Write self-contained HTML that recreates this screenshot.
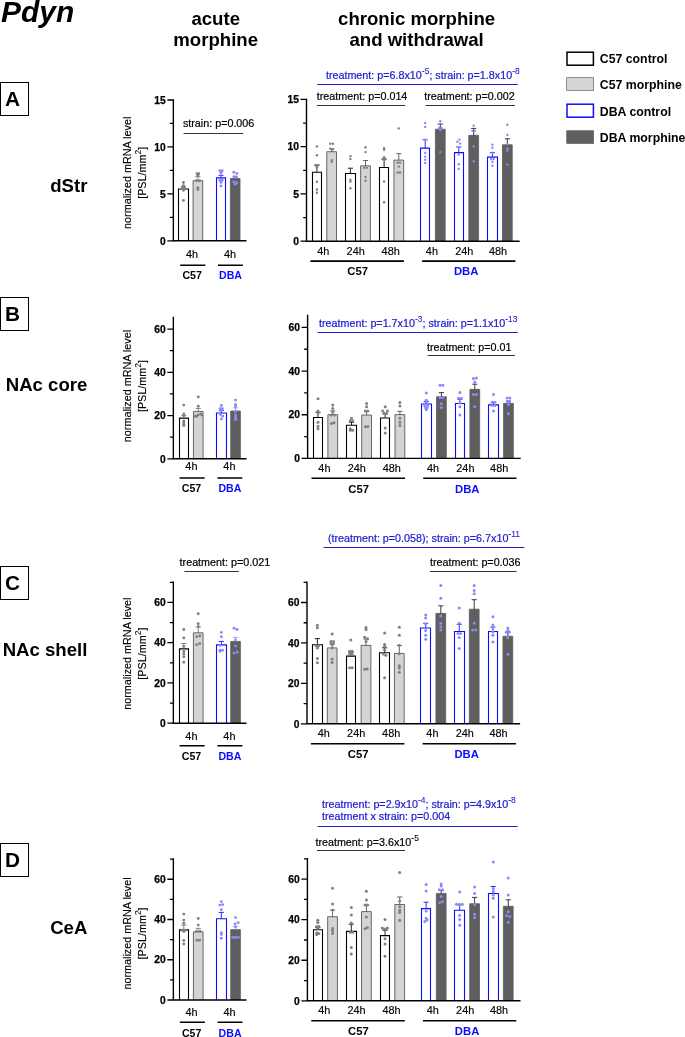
<!DOCTYPE html>
<html lang="en"><head><meta charset="utf-8"><title>Pdyn mRNA levels</title>
<style>
html,body{margin:0;padding:0;background:#fff}
body{width:685px;height:1037px;overflow:hidden}
svg{display:block;will-change:transform}
text{font-family:"Liberation Sans",sans-serif;fill:#000}
.tk{font-size:10.3px;font-weight:bold;stroke:#000;stroke-width:.25px}
.xl{font-size:10.9px;stroke:#000;stroke-width:.15px}
.grp{font-size:10.6px;font-weight:bold}
.yt{font-size:10.8px;stroke:#000;stroke-width:.15px}
.st{font-size:10.75px;stroke:#000;stroke-width:.2px}
.sb{font-size:10.75px;fill:#1c1cd0;stroke:#1c1cd0;stroke-width:.22px}
.sup{font-size:8.5px;stroke-width:.08px}
.reg{font-size:18.6px;font-weight:bold}
.hd{font-size:18.6px;font-weight:bold}
.pl{font-size:20.8px;font-weight:bold}
.lg{font-size:12.3px;font-weight:bold}
</style></head><body>
<svg width="685" height="1037" viewBox="0 0 685 1037">
<rect width="685" height="1037" fill="#fff"/>
<text x="1.1" y="21.6" font-size="29.9" font-weight="bold" font-style="italic">Pdyn</text>
<text x="215.7" y="24.8" class="hd" text-anchor="middle">acute</text>
<text x="215.7" y="46.2" class="hd" text-anchor="middle">morphine</text>
<text x="416.6" y="24.8" class="hd" text-anchor="middle">chronic morphine</text>
<text x="416.6" y="46.2" class="hd" text-anchor="middle">and withdrawal</text>
<rect x="567" y="52.2" width="26.4" height="13" fill="#fff" stroke="#000000" stroke-width="1.5"/>
<text x="599.8" y="63.1" class="lg">C57 control</text>
<rect x="566.7" y="77.7" width="27" height="12.9" fill="#d4d4d4" stroke="#505050" stroke-width="0.6"/>
<text x="599.8" y="89.3" class="lg">C57 morphine</text>
<rect x="567" y="104.2" width="26.4" height="13" fill="#fff" stroke="#0c0cff" stroke-width="1.5"/>
<text x="599.8" y="115.9" class="lg">DBA control</text>
<rect x="566.7" y="130.7" width="27" height="12.9" fill="#5f5f5f" stroke="#5f5f5f" stroke-width="0.6"/>
<text x="599.8" y="142.3" class="lg">DBA morphine</text>
<rect x="0.5" y="82.5" width="28" height="33" fill="#fff" stroke="#000" stroke-width="1"/>
<text x="12.6" y="106.3" class="pl" text-anchor="middle">A</text>
<text x="87.4" y="191.7" class="reg" text-anchor="end">dStr</text>
<rect x="0.5" y="297.5" width="28" height="33" fill="#fff" stroke="#000" stroke-width="1"/>
<text x="12.6" y="321.3" class="pl" text-anchor="middle">B</text>
<text x="87.4" y="391" class="reg" text-anchor="end">NAc core</text>
<rect x="0.5" y="566.5" width="28" height="33" fill="#fff" stroke="#000" stroke-width="1"/>
<text x="12.6" y="590.3" class="pl" text-anchor="middle">C</text>
<text x="87.4" y="656.3" class="reg" text-anchor="end">NAc shell</text>
<rect x="0.5" y="843.5" width="28" height="33" fill="#fff" stroke="#000" stroke-width="1"/>
<text x="12.6" y="867.3" class="pl" text-anchor="middle">D</text>
<text x="87.4" y="933.7" class="reg" text-anchor="end">CeA</text>
<text transform="translate(130.9 172.8) rotate(-90)" class="yt" text-anchor="middle">normalized mRNA level</text>
<text transform="translate(146.2 172.8) rotate(-90)" class="yt" text-anchor="middle">[PSL/mm<tspan dy="-5.1" font-size="8.4" stroke-width="0.05">2</tspan><tspan dy="5.1">]</tspan></text>
<g transform="translate(0 0)">
<path d="M178.5 240.8V188.95H188.5V240.8" fill="#ffffff" stroke="#000000" stroke-width="1.1"/>
<path d="M183.45 187V188.9M180.85 187H186.05" stroke="#6e6e6e" stroke-width="0.85" fill="none"/>
<g fill="#808080"><circle cx="183.45" cy="182.5" r="1.45"/><circle cx="183.45" cy="185.6" r="1.45"/><circle cx="182.55" cy="187" r="1.45"/><circle cx="184.35" cy="187" r="1.45"/><circle cx="183.45" cy="188.6" r="1.45"/><circle cx="183.45" cy="190.3" r="1.45"/><circle cx="183.45" cy="200.4" r="1.45"/></g>
<path d="M193.07 240.8V180.62H202.73V240.8" fill="#d4d4d4" stroke="#505050" stroke-width="0.85"/>
<path d="M197.9 176.7V180.7M195.3 176.7H200.5" stroke="#6e6e6e" stroke-width="0.85" fill="none"/>
<g fill="#808080"><circle cx="197" cy="173.8" r="1.45"/><circle cx="198.8" cy="173.8" r="1.45"/><circle cx="197.9" cy="175.5" r="1.45"/><circle cx="196.5" cy="180.8" r="1.45"/><circle cx="199.3" cy="180.8" r="1.45"/><circle cx="197.9" cy="187.8" r="1.45"/><circle cx="197.9" cy="189.5" r="1.45"/></g>
<path d="M216.5 240.8V177.85H225.5V240.8" fill="#ffffff" stroke="#0c0cff" stroke-width="1.1"/>
<path d="M221 175.3V177.8M218.4 175.3H223.6" stroke="#0c0cff" stroke-width="0.85" fill="none"/>
<g fill="#8a8afa"><circle cx="219.8" cy="170.8" r="1.45"/><circle cx="222.2" cy="170.8" r="1.45"/><circle cx="221" cy="173" r="1.45"/><circle cx="219.8" cy="180.2" r="1.45"/><circle cx="222.2" cy="180.2" r="1.45"/><circle cx="221" cy="182.5" r="1.45"/><circle cx="221" cy="186" r="1.45"/></g>
<path d="M230.37 240.8V178.52H240.03V240.8" fill="#5f5f5f" stroke="#5f5f5f" stroke-width="0.85"/>
<path d="M235.2 176.6V178.6M232.6 176.6H237.8" stroke="#8a8afa" stroke-width="0.85" fill="none"/>
<g fill="#8a8afa"><circle cx="233.8" cy="172.2" r="1.45"/><circle cx="236.8" cy="173.4" r="1.45"/><circle cx="234" cy="176.7" r="1.45"/><circle cx="236.4" cy="176.9" r="1.45"/><circle cx="233.7" cy="182" r="1.45"/><circle cx="236.8" cy="182.5" r="1.45"/><circle cx="235.2" cy="184.3" r="1.45"/></g>
<path d="M173.35 99.35 V240.8 H246.5" fill="none" stroke="#000" stroke-width="1.4"/>
<path d="M167.35 240.8H173.35M169.95 217.33H173.35M167.35 193.87H173.35M169.95 170.4H173.35M167.35 146.93H173.35M169.95 123.47H173.35M167.35 100H173.35" stroke="#000" stroke-width="1.3" fill="none"/>
<text x="165.75" y="244.5" class="tk" text-anchor="end">0</text>
<text x="165.75" y="197.57" class="tk" text-anchor="end">5</text>
<text x="165.75" y="150.63" class="tk" text-anchor="end">10</text>
<text x="165.75" y="103.7" class="tk" text-anchor="end">15</text>
<text x="192" y="258" class="xl" text-anchor="middle">4h</text>
<text x="230" y="258" class="xl" text-anchor="middle">4h</text>
<path d="M180.2 265.3H205.3M218 265.3H242.9" stroke="#000" stroke-width="1.6"/>
<text x="192.1" y="278.9" class="grp" text-anchor="middle">C57</text>
<text x="230.5" y="278.9" class="grp" text-anchor="middle" style="fill:#0c0cff">DBA</text>
</g>
<g transform="translate(0 0)">
<path d="M312.5 241.2V172.25H321.5V241.2" fill="#ffffff" stroke="#000000" stroke-width="1.1"/>
<path d="M316.9 165V172.2M314.3 165H319.5" stroke="#000000" stroke-width="0.85" fill="none"/>
<g fill="#808080"><circle cx="316.9" cy="146.5" r="1.2"/><circle cx="316.9" cy="155.3" r="1.2"/><circle cx="315.7" cy="165.4" r="1.2"/><circle cx="318.1" cy="165.4" r="1.2"/><circle cx="316.9" cy="167.4" r="1.2"/><circle cx="316.9" cy="181.8" r="1.2"/><circle cx="316.9" cy="189.5" r="1.2"/><circle cx="316.9" cy="192.7" r="1.2"/></g>
<path d="M326.77 241.2V151.72H336.53V241.2" fill="#d4d4d4" stroke="#505050" stroke-width="0.85"/>
<path d="M331.65 148.6V151.8M329.05 148.6H334.25" stroke="#4a4a4a" stroke-width="0.85" fill="none"/>
<g fill="#808080"><circle cx="330.35" cy="143.8" r="1.2"/><circle cx="332.95" cy="143.8" r="1.2"/><circle cx="330.35" cy="148.6" r="1.2"/><circle cx="332.95" cy="149.2" r="1.2"/><circle cx="331.65" cy="160.1" r="1.2"/><circle cx="331.65" cy="161.8" r="1.2"/></g>
<path d="M345.5 241.2V173.55H355.5V241.2" fill="#ffffff" stroke="#000000" stroke-width="1.1"/>
<path d="M350.4 168.2V173.5M347.8 168.2H353" stroke="#000000" stroke-width="0.85" fill="none"/>
<g fill="#808080"><circle cx="350.4" cy="156.1" r="1.2"/><circle cx="350.4" cy="159" r="1.2"/><circle cx="350.4" cy="179.7" r="1.2"/><circle cx="350.4" cy="181.5" r="1.2"/><circle cx="350.4" cy="188.2" r="1.2"/></g>
<path d="M360.62 241.2V165.82H370.38V241.2" fill="#d4d4d4" stroke="#505050" stroke-width="0.85"/>
<path d="M365.5 160.5V165.9M362.9 160.5H368.1" stroke="#4a4a4a" stroke-width="0.85" fill="none"/>
<g fill="#808080"><circle cx="365.5" cy="147.3" r="1.2"/><circle cx="365.5" cy="152.1" r="1.2"/><circle cx="364.2" cy="167.7" r="1.2"/><circle cx="366.8" cy="167.7" r="1.2"/><circle cx="365.5" cy="177" r="1.2"/><circle cx="365.5" cy="180.7" r="1.2"/></g>
<path d="M379.5 241.2V167.45H388.5V241.2" fill="#ffffff" stroke="#000000" stroke-width="1.1"/>
<path d="M384.1 159V167.4M381.5 159H386.7" stroke="#000000" stroke-width="0.85" fill="none"/>
<g fill="#808080"><circle cx="384.1" cy="148.1" r="1.2"/><circle cx="384.1" cy="149.7" r="1.2"/><circle cx="384.1" cy="157.3" r="1.2"/><circle cx="382.8" cy="159.3" r="1.2"/><circle cx="385.3" cy="159.3" r="1.2"/><circle cx="384.1" cy="181.5" r="1.2"/><circle cx="384.1" cy="202.2" r="1.2"/></g>
<path d="M393.92 241.2V160.12H403.68V241.2" fill="#d4d4d4" stroke="#505050" stroke-width="0.85"/>
<path d="M398.8 153.7V160.2M396.2 153.7H401.4" stroke="#4a4a4a" stroke-width="0.85" fill="none"/>
<g fill="#808080"><circle cx="398.8" cy="128.4" r="1.2"/><circle cx="397.6" cy="162.6" r="1.2"/><circle cx="400" cy="162.6" r="1.2"/><circle cx="398.8" cy="166.6" r="1.2"/><circle cx="397.6" cy="172.5" r="1.2"/><circle cx="400" cy="172.5" r="1.2"/></g>
<path d="M420.5 241.2V148.15H429.5V241.2" fill="#ffffff" stroke="#0c0cff" stroke-width="1.1"/>
<path d="M425.2 139.8V148.1M422.6 139.8H427.8" stroke="#0c0cff" stroke-width="0.85" fill="none"/>
<g fill="#8a8afa"><circle cx="425.2" cy="122.9" r="1.2"/><circle cx="425.2" cy="126.9" r="1.2"/><circle cx="425.2" cy="139.8" r="1.2"/><circle cx="425.2" cy="152.9" r="1.2"/><circle cx="425.2" cy="156.6" r="1.2"/><circle cx="425.2" cy="159.8" r="1.2"/><circle cx="425.2" cy="163" r="1.2"/></g>
<path d="M435.42 241.2V129.22H445.18V241.2" fill="#5f5f5f" stroke="#5f5f5f" stroke-width="0.85"/>
<path d="M440.3 124V129.3M437.7 124H442.9" stroke="#1a1a1a" stroke-width="0.85" fill="none"/>
<g fill="#8a8afa"><circle cx="440.3" cy="121.3" r="1.2"/><circle cx="439.1" cy="128" r="1.2"/><circle cx="441.5" cy="128" r="1.2"/><circle cx="440.3" cy="130" r="1.2"/><circle cx="440.3" cy="152.1" r="1.2"/></g>
<path d="M454.5 241.2V152.65H463.5V241.2" fill="#ffffff" stroke="#0c0cff" stroke-width="1.1"/>
<path d="M458.75 147V152.6M456.15 147H461.35" stroke="#0c0cff" stroke-width="0.85" fill="none"/>
<g fill="#8a8afa"><circle cx="459.45" cy="139.6" r="1.2"/><circle cx="457.35" cy="141.7" r="1.2"/><circle cx="460.15" cy="143.6" r="1.2"/><circle cx="458.75" cy="147.3" r="1.2"/><circle cx="458.75" cy="154.5" r="1.2"/><circle cx="458.75" cy="164.2" r="1.2"/><circle cx="458.75" cy="169" r="1.2"/></g>
<path d="M468.82 241.2V135.32H478.58V241.2" fill="#5f5f5f" stroke="#5f5f5f" stroke-width="0.85"/>
<path d="M473.7 128.4V135.4M471.1 128.4H476.3" stroke="#1a1a1a" stroke-width="0.85" fill="none"/>
<g fill="#8a8afa"><circle cx="473.7" cy="125.6" r="1.2"/><circle cx="472.5" cy="130.9" r="1.2"/><circle cx="474.9" cy="130.9" r="1.2"/><circle cx="473.7" cy="146.5" r="1.2"/><circle cx="473.7" cy="161.3" r="1.2"/></g>
<path d="M487.5 241.2V157.15H497.5V241.2" fill="#ffffff" stroke="#0c0cff" stroke-width="1.1"/>
<path d="M492.4 152.6V157.1M489.8 152.6H495" stroke="#0c0cff" stroke-width="0.85" fill="none"/>
<g fill="#8a8afa"><circle cx="492.4" cy="144.6" r="1.2"/><circle cx="492.4" cy="147.8" r="1.2"/><circle cx="492.4" cy="152.9" r="1.2"/><circle cx="491.1" cy="159" r="1.2"/><circle cx="493.6" cy="159" r="1.2"/><circle cx="492.4" cy="161.8" r="1.2"/><circle cx="492.4" cy="165.8" r="1.2"/></g>
<path d="M502.47 241.2V144.82H512.23V241.2" fill="#5f5f5f" stroke="#5f5f5f" stroke-width="0.85"/>
<path d="M507.35 138.8V144.9M504.75 138.8H509.95" stroke="#1a1a1a" stroke-width="0.85" fill="none"/>
<g fill="#8a8afa"><circle cx="507.35" cy="124.8" r="1.2"/><circle cx="507.35" cy="134.9" r="1.2"/><circle cx="507.35" cy="144.1" r="1.2"/><circle cx="507.35" cy="148.6" r="1.2"/><circle cx="507.35" cy="150.5" r="1.2"/><circle cx="507.35" cy="164.6" r="1.2"/></g>
<path d="M306.5 98.75 V241.2 H519.6" fill="none" stroke="#000" stroke-width="1.4"/>
<path d="M300.5 241.2H306.5M303.1 217.57H306.5M300.5 193.93H306.5M303.1 170.3H306.5M300.5 146.67H306.5M303.1 123.03H306.5M300.5 99.4H306.5" stroke="#000" stroke-width="1.3" fill="none"/>
<text x="298.9" y="244.9" class="tk" text-anchor="end">0</text>
<text x="298.9" y="197.63" class="tk" text-anchor="end">5</text>
<text x="298.9" y="150.37" class="tk" text-anchor="end">10</text>
<text x="298.9" y="103.1" class="tk" text-anchor="end">15</text>
<text x="323.3" y="254.5" class="xl" text-anchor="middle">4h</text>
<text x="355.7" y="254.5" class="xl" text-anchor="middle">24h</text>
<text x="390.7" y="254.5" class="xl" text-anchor="middle">48h</text>
<text x="431.9" y="254.5" class="xl" text-anchor="middle">4h</text>
<text x="464.3" y="254.5" class="xl" text-anchor="middle">24h</text>
<text x="498.1" y="254.5" class="xl" text-anchor="middle">48h</text>
<path d="M310.4 261.1H403.9M422.1 261.1H515.4" stroke="#000" stroke-width="1.6"/>
<text x="357.6" y="275.3" class="grp" style="font-size:11.3px" text-anchor="middle">C57</text>
<text x="466.2" y="275.3" class="grp" text-anchor="middle" style="font-size:11.3px;fill:#0c0cff">DBA</text>
</g>
<text x="182.9" y="127" class="st">strain: p=0.006</text>
<path d="M183.6 133.5H243.2" stroke="#333" stroke-width="1"/>
<text x="325.9" y="78.7" class="sb">treatment: p=6.8x10<tspan dy="-4.6" class="sup">-5</tspan><tspan dy="4.6">&#8203;</tspan>; strain: p=1.8x10<tspan dy="-4.6" class="sup">-8</tspan><tspan dy="4.6">&#8203;</tspan></text>
<path d="M317.2 84.5H517.6" stroke="#1c1cd0" stroke-width="1"/>
<text x="316.8" y="100.2" class="st">treatment: p=0.014</text>
<path d="M316.8 105.5H405.2" stroke="#333" stroke-width="1"/>
<text x="424.2" y="100.2" class="st">treatment: p=0.002</text>
<path d="M425.6 105.5H514.9" stroke="#333" stroke-width="1"/>
<text transform="translate(130.9 386.05) rotate(-90)" class="yt" text-anchor="middle">normalized mRNA level</text>
<text transform="translate(146.2 386.05) rotate(-90)" class="yt" text-anchor="middle">[PSL/mm<tspan dy="-5.1" font-size="8.4" stroke-width="0.05">2</tspan><tspan dy="5.1">]</tspan></text>
<g transform="translate(0 0)">
<path d="M179.5 458.8V418.15H188.5V458.8" fill="#ffffff" stroke="#000000" stroke-width="1.1"/>
<path d="M183.8 415.6V418.1M181.2 415.6H186.4" stroke="#6e6e6e" stroke-width="0.85" fill="none"/>
<g fill="#808080"><circle cx="183.8" cy="405.1" r="1.45"/><circle cx="183.8" cy="413.9" r="1.45"/><circle cx="183.8" cy="415.6" r="1.45"/><circle cx="183.8" cy="420.9" r="1.45"/><circle cx="183.8" cy="422.6" r="1.45"/><circle cx="183.8" cy="424.4" r="1.45"/><circle cx="183.8" cy="425.5" r="1.45"/></g>
<path d="M193.42 458.8V411.42H203.08V458.8" fill="#d4d4d4" stroke="#505050" stroke-width="0.85"/>
<path d="M198.25 408.4V411.5M195.65 408.4H200.85" stroke="#6e6e6e" stroke-width="0.85" fill="none"/>
<g fill="#808080"><circle cx="198.25" cy="396.9" r="1.45"/><circle cx="198.25" cy="406.3" r="1.45"/><circle cx="200.85" cy="413.9" r="1.45"/><circle cx="201.75" cy="415" r="1.45"/><circle cx="198.25" cy="415" r="1.45"/><circle cx="195.25" cy="416.2" r="1.45"/><circle cx="196.45" cy="416.2" r="1.45"/></g>
<path d="M216.5 458.8V413.05H226.5V458.8" fill="#ffffff" stroke="#0c0cff" stroke-width="1.1"/>
<path d="M221.35 410.6V413M218.75 410.6H223.95" stroke="#0c0cff" stroke-width="0.85" fill="none"/>
<g fill="#8a8afa"><circle cx="221.35" cy="405.5" r="1.45"/><circle cx="220.15" cy="408.6" r="1.45"/><circle cx="222.55" cy="408.6" r="1.45"/><circle cx="221.35" cy="410.1" r="1.45"/><circle cx="220.45" cy="414.5" r="1.45"/><circle cx="222.75" cy="416.2" r="1.45"/><circle cx="221.35" cy="419.1" r="1.45"/></g>
<path d="M230.72 458.8V411.02H240.38V458.8" fill="#5f5f5f" stroke="#5f5f5f" stroke-width="0.85"/>
<path d="M235.55 407.8V411.1M232.95 407.8H238.15" stroke="#8a8afa" stroke-width="0.85" fill="none"/>
<g fill="#8a8afa"><circle cx="235.55" cy="400.1" r="1.45"/><circle cx="235.55" cy="404.5" r="1.45"/><circle cx="235.55" cy="406.3" r="1.45"/><circle cx="235.55" cy="411.5" r="1.45"/><circle cx="235.55" cy="415" r="1.45"/><circle cx="235.55" cy="416.8" r="1.45"/><circle cx="235.55" cy="418.5" r="1.45"/><circle cx="235.55" cy="419.7" r="1.45"/></g>
<path d="M173.35 316.65 V458.8 H246.5" fill="none" stroke="#000" stroke-width="1.4"/>
<path d="M167.35 458.8H173.35M169.95 437.18H173.35M167.35 415.56H173.35M169.95 393.94H173.35M167.35 372.32H173.35M169.95 350.7H173.35M167.35 329.08H173.35" stroke="#000" stroke-width="1.3" fill="none"/>
<text x="165.75" y="462.5" class="tk" text-anchor="end">0</text>
<text x="165.75" y="419.26" class="tk" text-anchor="end">20</text>
<text x="165.75" y="376.02" class="tk" text-anchor="end">40</text>
<text x="165.75" y="332.78" class="tk" text-anchor="end">60</text>
<text x="191.4" y="470" class="xl" text-anchor="middle">4h</text>
<text x="229.4" y="470" class="xl" text-anchor="middle">4h</text>
<path d="M179.6 478H204.7M217.4 478H242.3" stroke="#000" stroke-width="1.6"/>
<text x="191.5" y="491.5" class="grp" text-anchor="middle">C57</text>
<text x="229.9" y="491.5" class="grp" text-anchor="middle" style="fill:#0c0cff">DBA</text>
</g>
<g transform="translate(1.1 0)">
<path d="M312.4 458.4V417.55H321.4V458.4" fill="#ffffff" stroke="#000000" stroke-width="1.1"/>
<path d="M316.9 412.3V417.5M314.3 412.3H319.5" stroke="#000000" stroke-width="0.85" fill="none"/>
<g fill="#808080"><circle cx="316.9" cy="398.7" r="1.5"/><circle cx="316.9" cy="411" r="1.5"/><circle cx="316.9" cy="413" r="1.5"/><circle cx="316.9" cy="422.3" r="1.5"/><circle cx="316.9" cy="426.3" r="1.5"/><circle cx="316.9" cy="428.7" r="1.5"/></g>
<path d="M326.77 458.4V414.62H336.53V458.4" fill="#d4d4d4" stroke="#505050" stroke-width="0.85"/>
<path d="M331.65 411V414.7M329.05 411H334.25" stroke="#4a4a4a" stroke-width="0.85" fill="none"/>
<g fill="#808080"><circle cx="331.65" cy="405.1" r="1.5"/><circle cx="331.65" cy="408.6" r="1.5"/><circle cx="331.65" cy="411.8" r="1.5"/><circle cx="330.05" cy="415" r="1.5"/><circle cx="333.25" cy="415" r="1.5"/><circle cx="330.35" cy="423.4" r="1.5"/><circle cx="332.85" cy="422.8" r="1.5"/></g>
<path d="M345.4 458.4V425.25H355.4V458.4" fill="#ffffff" stroke="#000000" stroke-width="1.1"/>
<path d="M350.4 422.3V425.2M347.8 422.3H353" stroke="#000000" stroke-width="0.85" fill="none"/>
<g fill="#808080"><circle cx="350.4" cy="418.3" r="1.5"/><circle cx="349.2" cy="420.7" r="1.5"/><circle cx="351.6" cy="420.7" r="1.5"/><circle cx="349.2" cy="428.7" r="1.5"/><circle cx="349.2" cy="430.3" r="1.5"/><circle cx="351.6" cy="430.3" r="1.5"/></g>
<path d="M360.62 458.4V415.02H370.38V458.4" fill="#d4d4d4" stroke="#505050" stroke-width="0.85"/>
<path d="M365.5 411.5V415.1M362.9 411.5H368.1" stroke="#4a4a4a" stroke-width="0.85" fill="none"/>
<g fill="#808080"><circle cx="365.5" cy="403.5" r="1.5"/><circle cx="365.5" cy="406.7" r="1.5"/><circle cx="364.3" cy="411" r="1.5"/><circle cx="366.7" cy="411" r="1.5"/><circle cx="364.3" cy="426.8" r="1.5"/><circle cx="366.7" cy="426.6" r="1.5"/></g>
<path d="M379.4 458.4V417.95H388.4V458.4" fill="#ffffff" stroke="#000000" stroke-width="1.1"/>
<path d="M384.1 413.4V417.9M381.5 413.4H386.7" stroke="#000000" stroke-width="0.85" fill="none"/>
<g fill="#808080"><circle cx="384.1" cy="406.7" r="1.5"/><circle cx="381.6" cy="411" r="1.5"/><circle cx="386.4" cy="411" r="1.5"/><circle cx="382.9" cy="413.4" r="1.5"/><circle cx="385.3" cy="413.4" r="1.5"/><circle cx="384.1" cy="427.9" r="1.5"/><circle cx="384.1" cy="433" r="1.5"/></g>
<path d="M393.92 458.4V414.62H403.68V458.4" fill="#d4d4d4" stroke="#505050" stroke-width="0.85"/>
<path d="M398.8 411.3V414.7M396.2 411.3H401.4" stroke="#4a4a4a" stroke-width="0.85" fill="none"/>
<g fill="#808080"><circle cx="398.8" cy="402.5" r="1.5"/><circle cx="398.8" cy="405.9" r="1.5"/><circle cx="398.8" cy="418.3" r="1.5"/><circle cx="398.8" cy="422.3" r="1.5"/><circle cx="398.8" cy="425.5" r="1.5"/></g>
<path d="M420.4 458.4V404.05H430.4V458.4" fill="#ffffff" stroke="#0c0cff" stroke-width="1.1"/>
<path d="M425.2 401.4V404M422.6 401.4H427.8" stroke="#0c0cff" stroke-width="0.85" fill="none"/>
<g fill="#8a8afa"><circle cx="425.2" cy="393" r="1.5"/><circle cx="425.2" cy="400.3" r="1.5"/><circle cx="425.2" cy="402.2" r="1.5"/><circle cx="423.6" cy="405.4" r="1.5"/><circle cx="426.8" cy="405.4" r="1.5"/><circle cx="424.4" cy="407.8" r="1.5"/><circle cx="426" cy="407.8" r="1.5"/><circle cx="425.2" cy="409.7" r="1.5"/></g>
<path d="M435.42 458.4V396.72H445.18V458.4" fill="#5f5f5f" stroke="#5f5f5f" stroke-width="0.85"/>
<path d="M440.3 392.6V396.8M437.7 392.6H442.9" stroke="#1a1a1a" stroke-width="0.85" fill="none"/>
<g fill="#8a8afa"><circle cx="439" cy="385.3" r="1.5"/><circle cx="441.7" cy="385.3" r="1.5"/><circle cx="439" cy="397.4" r="1.5"/><circle cx="441.7" cy="397.4" r="1.5"/><circle cx="440.3" cy="403.8" r="1.5"/><circle cx="440.3" cy="407.5" r="1.5"/></g>
<path d="M454.4 458.4V403.55H463.4V458.4" fill="#ffffff" stroke="#0c0cff" stroke-width="1.1"/>
<path d="M458.75 399.3V403.5M456.15 399.3H461.35" stroke="#0c0cff" stroke-width="0.85" fill="none"/>
<g fill="#8a8afa"><circle cx="458.75" cy="392.6" r="1.5"/><circle cx="457.45" cy="398.2" r="1.5"/><circle cx="460.35" cy="398.2" r="1.5"/><circle cx="458.75" cy="403" r="1.5"/><circle cx="458.75" cy="406.7" r="1.5"/><circle cx="458.75" cy="415" r="1.5"/></g>
<path d="M468.82 458.4V389.42H478.58V458.4" fill="#5f5f5f" stroke="#5f5f5f" stroke-width="0.85"/>
<path d="M473.7 384.2V389.5M471.1 384.2H476.3" stroke="#1a1a1a" stroke-width="0.85" fill="none"/>
<g fill="#8a8afa"><circle cx="472.3" cy="378.6" r="1.5"/><circle cx="475.3" cy="378" r="1.5"/><circle cx="473.7" cy="382.1" r="1.5"/><circle cx="472.3" cy="394.6" r="1.5"/><circle cx="475.3" cy="394.6" r="1.5"/><circle cx="473.7" cy="406.5" r="1.5"/></g>
<path d="M487.4 458.4V404.85H497.4V458.4" fill="#ffffff" stroke="#0c0cff" stroke-width="1.1"/>
<path d="M492.4 402.2V404.8M489.8 402.2H495" stroke="#0c0cff" stroke-width="0.85" fill="none"/>
<g fill="#8a8afa"><circle cx="492.4" cy="394.5" r="1.5"/><circle cx="491.1" cy="402.2" r="1.5"/><circle cx="493.8" cy="402.2" r="1.5"/><circle cx="491.1" cy="405.4" r="1.5"/><circle cx="493.8" cy="405.4" r="1.5"/><circle cx="492.4" cy="411" r="1.5"/></g>
<path d="M502.47 458.4V403.42H512.23V458.4" fill="#5f5f5f" stroke="#5f5f5f" stroke-width="0.85"/>
<path d="M507.35 401V403.5M504.75 401H509.95" stroke="#1a1a1a" stroke-width="0.85" fill="none"/>
<g fill="#8a8afa"><circle cx="506.05" cy="397.9" r="1.5"/><circle cx="508.75" cy="397.9" r="1.5"/><circle cx="506.35" cy="401.4" r="1.5"/><circle cx="508.45" cy="401.4" r="1.5"/><circle cx="507.35" cy="404.6" r="1.5"/><circle cx="507.35" cy="413.8" r="1.5"/></g>
<path d="M306.5 314.85 V458.4 H519.6" fill="none" stroke="#000" stroke-width="1.4"/>
<path d="M300.5 458.4H306.5M303.1 436.57H306.5M300.5 414.73H306.5M303.1 392.9H306.5M300.5 371.07H306.5M303.1 349.23H306.5M300.5 327.4H306.5" stroke="#000" stroke-width="1.3" fill="none"/>
<text x="298.9" y="462.1" class="tk" text-anchor="end">0</text>
<text x="298.9" y="418.43" class="tk" text-anchor="end">20</text>
<text x="298.9" y="374.77" class="tk" text-anchor="end">40</text>
<text x="298.9" y="331.1" class="tk" text-anchor="end">60</text>
<text x="323.3" y="471.7" class="xl" text-anchor="middle">4h</text>
<text x="355.7" y="471.7" class="xl" text-anchor="middle">24h</text>
<text x="390.7" y="471.7" class="xl" text-anchor="middle">48h</text>
<text x="431.9" y="471.7" class="xl" text-anchor="middle">4h</text>
<text x="464.3" y="471.7" class="xl" text-anchor="middle">24h</text>
<text x="498.1" y="471.7" class="xl" text-anchor="middle">48h</text>
<path d="M310.4 478.3H403.9M422.1 478.3H515.4" stroke="#000" stroke-width="1.6"/>
<text x="357.6" y="492.5" class="grp" style="font-size:11.3px" text-anchor="middle">C57</text>
<text x="466.2" y="492.5" class="grp" text-anchor="middle" style="font-size:11.3px;fill:#0c0cff">DBA</text>
</g>
<text x="319" y="327" class="sb">treatment: p=1.7x10<tspan dy="-4.6" class="sup">-3</tspan><tspan dy="4.6">&#8203;</tspan>; strain: p=1.1x10<tspan dy="-4.6" class="sup">-13</tspan><tspan dy="4.6">&#8203;</tspan></text>
<path d="M317.5 332.5H517.6" stroke="#1c1cd0" stroke-width="1"/>
<text x="426.9" y="351" class="st">treatment: p=0.01</text>
<path d="M427.6 355.5H514.9" stroke="#333" stroke-width="1"/>
<text transform="translate(130.9 653.65) rotate(-90)" class="yt" text-anchor="middle">normalized mRNA level</text>
<text transform="translate(146.2 653.65) rotate(-90)" class="yt" text-anchor="middle">[PSL/mm<tspan dy="-5.1" font-size="8.4" stroke-width="0.05">2</tspan><tspan dy="5.1">]</tspan></text>
<g transform="translate(0 0)">
<path d="M179.5 723.2V648.85H188.5V723.2" fill="#ffffff" stroke="#000000" stroke-width="1.1"/>
<path d="M183.8 643.5V648.8M181.2 643.5H186.4" stroke="#6e6e6e" stroke-width="0.85" fill="none"/>
<g fill="#808080"><circle cx="183.8" cy="629.5" r="1.45"/><circle cx="183.8" cy="637.9" r="1.45"/><circle cx="183.8" cy="646.4" r="1.45"/><circle cx="183.8" cy="651.4" r="1.45"/><circle cx="183.8" cy="653.9" r="1.45"/><circle cx="183.8" cy="656.7" r="1.45"/><circle cx="183.8" cy="662.3" r="1.45"/></g>
<path d="M193.42 723.2V632.82H203.08V723.2" fill="#d4d4d4" stroke="#505050" stroke-width="0.85"/>
<path d="M198.25 627V632.9M195.65 627H200.85" stroke="#6e6e6e" stroke-width="0.85" fill="none"/>
<g fill="#808080"><circle cx="198.25" cy="613.8" r="1.45"/><circle cx="198.25" cy="623.8" r="1.45"/><circle cx="198.25" cy="626.6" r="1.45"/><circle cx="196.65" cy="636.6" r="1.45"/><circle cx="199.75" cy="636" r="1.45"/><circle cx="196.65" cy="644.8" r="1.45"/><circle cx="199.75" cy="643.6" r="1.45"/></g>
<path d="M216.5 723.2V644.85H226.5V723.2" fill="#ffffff" stroke="#0c0cff" stroke-width="1.1"/>
<path d="M221.35 641.4V644.8M218.75 641.4H223.95" stroke="#0c0cff" stroke-width="0.85" fill="none"/>
<g fill="#8a8afa"><circle cx="221.35" cy="632.4" r="1.45"/><circle cx="221.35" cy="636.7" r="1.45"/><circle cx="220.05" cy="645.4" r="1.45"/><circle cx="220.05" cy="650.2" r="1.45"/><circle cx="222.55" cy="650.2" r="1.45"/><circle cx="220.05" cy="651.4" r="1.45"/></g>
<path d="M230.72 723.2V641.42H240.38V723.2" fill="#5f5f5f" stroke="#5f5f5f" stroke-width="0.85"/>
<path d="M235.55 637.4V641.5M232.95 637.4H238.15" stroke="#8a8afa" stroke-width="0.85" fill="none"/>
<g fill="#8a8afa"><circle cx="234.05" cy="628.2" r="1.45"/><circle cx="236.95" cy="629.5" r="1.45"/><circle cx="235.55" cy="640.1" r="1.45"/><circle cx="235.55" cy="646.1" r="1.45"/><circle cx="234.05" cy="653.1" r="1.45"/><circle cx="237.15" cy="652.2" r="1.45"/></g>
<path d="M173.35 581.45 V723.2 H246.5" fill="none" stroke="#000" stroke-width="1.4"/>
<path d="M167.35 723.2H173.35M169.95 703.07H173.35M167.35 682.94H173.35M169.95 662.81H173.35M167.35 642.69H173.35M169.95 622.56H173.35M167.35 602.43H173.35M169.95 582.3H173.35" stroke="#000" stroke-width="1.3" fill="none"/>
<text x="165.75" y="726.9" class="tk" text-anchor="end">0</text>
<text x="165.75" y="686.64" class="tk" text-anchor="end">20</text>
<text x="165.75" y="646.39" class="tk" text-anchor="end">40</text>
<text x="165.75" y="606.13" class="tk" text-anchor="end">60</text>
<text x="191.4" y="740.3" class="xl" text-anchor="middle">4h</text>
<text x="229.4" y="740.3" class="xl" text-anchor="middle">4h</text>
<path d="M179.6 745.7H204.7M217.4 745.7H242.3" stroke="#000" stroke-width="1.6"/>
<text x="191.5" y="760.2" class="grp" text-anchor="middle">C57</text>
<text x="229.9" y="760.2" class="grp" text-anchor="middle" style="fill:#0c0cff">DBA</text>
</g>
<g transform="translate(0.5 0)">
<path d="M312 723.8V644.75H322V723.8" fill="#ffffff" stroke="#000000" stroke-width="1.1"/>
<path d="M316.9 638.6V644.7M314.3 638.6H319.5" stroke="#000000" stroke-width="0.85" fill="none"/>
<g fill="#808080"><circle cx="316.9" cy="625.3" r="1.5"/><circle cx="316.9" cy="627.7" r="1.5"/><circle cx="315.7" cy="645.7" r="1.5"/><circle cx="318.1" cy="645.7" r="1.5"/><circle cx="316.9" cy="648.1" r="1.5"/><circle cx="316.9" cy="658.5" r="1.5"/><circle cx="316.9" cy="662.8" r="1.5"/></g>
<path d="M326.77 723.8V647.92H336.53V723.8" fill="#d4d4d4" stroke="#505050" stroke-width="0.85"/>
<path d="M331.65 643.8V648M329.05 643.8H334.25" stroke="#4a4a4a" stroke-width="0.85" fill="none"/>
<g fill="#808080"><circle cx="331.65" cy="633.9" r="1.5"/><circle cx="330.35" cy="641.6" r="1.5"/><circle cx="333.05" cy="641.6" r="1.5"/><circle cx="330.85" cy="644.1" r="1.5"/><circle cx="332.75" cy="644.1" r="1.5"/><circle cx="331.65" cy="648.1" r="1.5"/><circle cx="331.65" cy="659" r="1.5"/><circle cx="331.65" cy="662.5" r="1.5"/></g>
<path d="M346 723.8V656.15H355V723.8" fill="#ffffff" stroke="#000000" stroke-width="1.1"/>
<path d="M350.4 652.7V656.1M347.8 652.7H353" stroke="#000000" stroke-width="0.85" fill="none"/>
<g fill="#808080"><circle cx="350.4" cy="640" r="1.5"/><circle cx="349.1" cy="651.3" r="1.5"/><circle cx="351.7" cy="651.3" r="1.5"/><circle cx="350.4" cy="652.9" r="1.5"/><circle cx="349.1" cy="654.5" r="1.5"/><circle cx="351.7" cy="654.5" r="1.5"/><circle cx="349.1" cy="667.8" r="1.5"/><circle cx="351.7" cy="667.8" r="1.5"/></g>
<path d="M360.62 723.8V645.42H370.38V723.8" fill="#d4d4d4" stroke="#505050" stroke-width="0.85"/>
<path d="M365.5 639V645.5M362.9 639H368.1" stroke="#4a4a4a" stroke-width="0.85" fill="none"/>
<g fill="#808080"><circle cx="365.5" cy="627.5" r="1.5"/><circle cx="365.5" cy="629.6" r="1.5"/><circle cx="364.2" cy="637.3" r="1.5"/><circle cx="367.1" cy="638.8" r="1.5"/><circle cx="365.5" cy="641.6" r="1.5"/><circle cx="364.2" cy="669.3" r="1.5"/><circle cx="366.7" cy="669" r="1.5"/></g>
<path d="M379 723.8V652.75H389V723.8" fill="#ffffff" stroke="#000000" stroke-width="1.1"/>
<path d="M384.1 647.8V652.7M381.5 647.8H386.7" stroke="#000000" stroke-width="0.85" fill="none"/>
<g fill="#808080"><circle cx="384.1" cy="633.1" r="1.5"/><circle cx="384.1" cy="644.4" r="1.5"/><circle cx="384.1" cy="646.5" r="1.5"/><circle cx="384.1" cy="649.7" r="1.5"/><circle cx="382.8" cy="654" r="1.5"/><circle cx="385.3" cy="655.3" r="1.5"/><circle cx="384.1" cy="677.8" r="1.5"/></g>
<path d="M393.92 723.8V653.42H403.68V723.8" fill="#d4d4d4" stroke="#505050" stroke-width="0.85"/>
<path d="M398.8 645.5V653.5M396.2 645.5H401.4" stroke="#4a4a4a" stroke-width="0.85" fill="none"/>
<g fill="#808080"><circle cx="398.8" cy="627.2" r="1.5"/><circle cx="398.8" cy="635.2" r="1.5"/><circle cx="398.8" cy="645.2" r="1.5"/><circle cx="398.8" cy="653.7" r="1.5"/><circle cx="398.8" cy="665.7" r="1.5"/><circle cx="398.8" cy="668.1" r="1.5"/><circle cx="398.8" cy="672.2" r="1.5"/></g>
<path d="M420 723.8V628.05H430V723.8" fill="#ffffff" stroke="#0c0cff" stroke-width="1.1"/>
<path d="M425.2 623.3V628M422.6 623.3H427.8" stroke="#0c0cff" stroke-width="0.85" fill="none"/>
<g fill="#8a8afa"><circle cx="425.2" cy="615.1" r="1.5"/><circle cx="425.2" cy="618" r="1.5"/><circle cx="425.2" cy="624" r="1.5"/><circle cx="425.2" cy="630.4" r="1.5"/><circle cx="425.2" cy="635.2" r="1.5"/><circle cx="425.2" cy="639.2" r="1.5"/></g>
<path d="M435.42 723.8V613.42H445.18V723.8" fill="#5f5f5f" stroke="#5f5f5f" stroke-width="0.85"/>
<path d="M440.3 605.8V613.5M437.7 605.8H442.9" stroke="#1a1a1a" stroke-width="0.85" fill="none"/>
<g fill="#8a8afa"><circle cx="440.3" cy="585.4" r="1.5"/><circle cx="440.3" cy="598.3" r="1.5"/><circle cx="440.3" cy="616" r="1.5"/><circle cx="440.3" cy="623.2" r="1.5"/><circle cx="440.3" cy="626.7" r="1.5"/><circle cx="440.3" cy="630.1" r="1.5"/></g>
<path d="M454 723.8V631.55H464V723.8" fill="#ffffff" stroke="#0c0cff" stroke-width="1.1"/>
<path d="M458.75 624.3V631.5M456.15 624.3H461.35" stroke="#0c0cff" stroke-width="0.85" fill="none"/>
<g fill="#8a8afa"><circle cx="458.75" cy="607.9" r="1.5"/><circle cx="458.75" cy="623.2" r="1.5"/><circle cx="457.45" cy="633.6" r="1.5"/><circle cx="460.05" cy="633.6" r="1.5"/><circle cx="458.75" cy="637.6" r="1.5"/><circle cx="458.75" cy="648.5" r="1.5"/></g>
<path d="M468.82 723.8V609.22H478.58V723.8" fill="#5f5f5f" stroke="#5f5f5f" stroke-width="0.85"/>
<path d="M473.7 599.7V609.3M471.1 599.7H476.3" stroke="#1a1a1a" stroke-width="0.85" fill="none"/>
<g fill="#8a8afa"><circle cx="473.7" cy="585.4" r="1.5"/><circle cx="473.7" cy="590.6" r="1.5"/><circle cx="473.7" cy="593.8" r="1.5"/><circle cx="473.7" cy="622.9" r="1.5"/><circle cx="472.1" cy="630.1" r="1.5"/><circle cx="475.3" cy="630.1" r="1.5"/></g>
<path d="M488 723.8V631.55H497V723.8" fill="#ffffff" stroke="#0c0cff" stroke-width="1.1"/>
<path d="M492.4 627V631.5M489.8 627H495" stroke="#0c0cff" stroke-width="0.85" fill="none"/>
<g fill="#8a8afa"><circle cx="492.4" cy="616.8" r="1.5"/><circle cx="492.4" cy="625.1" r="1.5"/><circle cx="492.4" cy="628" r="1.5"/><circle cx="492.4" cy="632" r="1.5"/><circle cx="492.4" cy="635.2" r="1.5"/><circle cx="492.4" cy="642.1" r="1.5"/></g>
<path d="M502.47 723.8V636.22H512.23V723.8" fill="#5f5f5f" stroke="#5f5f5f" stroke-width="0.85"/>
<path d="M507.35 631.8V636.3M504.75 631.8H509.95" stroke="#1a1a1a" stroke-width="0.85" fill="none"/>
<g fill="#8a8afa"><circle cx="507.35" cy="628" r="1.5"/><circle cx="507.35" cy="630.4" r="1.5"/><circle cx="505.75" cy="632.3" r="1.5"/><circle cx="508.65" cy="632.3" r="1.5"/><circle cx="507.35" cy="637.6" r="1.5"/><circle cx="507.35" cy="654.2" r="1.5"/></g>
<path d="M306.5 581.45 V723.8 H519.6" fill="none" stroke="#000" stroke-width="1.4"/>
<path d="M300.5 723.8H306.5M303.1 703.59H306.5M300.5 683.37H306.5M303.1 663.16H306.5M300.5 642.94H306.5M303.1 622.73H306.5M300.5 602.52H306.5M303.1 582.3H306.5" stroke="#000" stroke-width="1.3" fill="none"/>
<text x="298.9" y="727.5" class="tk" text-anchor="end">0</text>
<text x="298.9" y="687.07" class="tk" text-anchor="end">20</text>
<text x="298.9" y="646.64" class="tk" text-anchor="end">40</text>
<text x="298.9" y="606.22" class="tk" text-anchor="end">60</text>
<text x="323.3" y="737.1" class="xl" text-anchor="middle">4h</text>
<text x="355.7" y="737.1" class="xl" text-anchor="middle">24h</text>
<text x="390.7" y="737.1" class="xl" text-anchor="middle">48h</text>
<text x="431.9" y="737.1" class="xl" text-anchor="middle">4h</text>
<text x="464.3" y="737.1" class="xl" text-anchor="middle">24h</text>
<text x="498.1" y="737.1" class="xl" text-anchor="middle">48h</text>
<path d="M310.4 743.7H403.9M422.1 743.7H515.4" stroke="#000" stroke-width="1.6"/>
<text x="357.6" y="757.9" class="grp" style="font-size:11.3px" text-anchor="middle">C57</text>
<text x="466.2" y="757.9" class="grp" text-anchor="middle" style="font-size:11.3px;fill:#0c0cff">DBA</text>
</g>
<text x="179.6" y="565.7" class="st">treatment: p=0.021</text>
<path d="M184.4 571.5H238.9" stroke="#333" stroke-width="1"/>
<text x="327.9" y="541.8" class="sb">(treatment: p=0.058); strain: p=6.7x10<tspan dy="-4.6" class="sup">-11</tspan><tspan dy="4.6">&#8203;</tspan></text>
<path d="M323.5 547.5H524.3" stroke="#1c1cd0" stroke-width="1"/>
<text x="430" y="565.7" class="st">treatment: p=0.036</text>
<path d="M430 571.5H516.6" stroke="#333" stroke-width="1"/>
<text transform="translate(130.9 933.45) rotate(-90)" class="yt" text-anchor="middle">normalized mRNA level</text>
<text transform="translate(146.2 933.45) rotate(-90)" class="yt" text-anchor="middle">[PSL/mm<tspan dy="-5.1" font-size="8.4" stroke-width="0.05">2</tspan><tspan dy="5.1">]</tspan></text>
<g transform="translate(0 0)">
<path d="M179.5 1000V929.85H188.5V1000" fill="#ffffff" stroke="#000000" stroke-width="1.1"/>
<path d="M183.8 925.1V929.8M181.2 925.1H186.4" stroke="#6e6e6e" stroke-width="0.85" fill="none"/>
<g fill="#808080"><circle cx="183.8" cy="914.1" r="1.45"/><circle cx="183.8" cy="920.1" r="1.45"/><circle cx="183.8" cy="923.3" r="1.45"/><circle cx="182.3" cy="930.2" r="1.45"/><circle cx="185.3" cy="930.2" r="1.45"/><circle cx="183.8" cy="931.4" r="1.45"/><circle cx="183.8" cy="940.4" r="1.45"/><circle cx="183.8" cy="944" r="1.45"/></g>
<path d="M193.42 1000V931.82H203.08V1000" fill="#d4d4d4" stroke="#505050" stroke-width="0.85"/>
<path d="M198.25 928.3V931.9M195.65 928.3H200.85" stroke="#6e6e6e" stroke-width="0.85" fill="none"/>
<g fill="#808080"><circle cx="198.25" cy="918.5" r="1.45"/><circle cx="198.25" cy="925.1" r="1.45"/><circle cx="196.35" cy="931.4" r="1.45"/><circle cx="200.15" cy="931.4" r="1.45"/><circle cx="196.95" cy="940.2" r="1.45"/><circle cx="199.55" cy="940.2" r="1.45"/></g>
<path d="M216.5 1000V918.75H226.5V1000" fill="#ffffff" stroke="#0c0cff" stroke-width="1.1"/>
<path d="M221.35 912.4V918.7M218.75 912.4H223.95" stroke="#0c0cff" stroke-width="0.85" fill="none"/>
<g fill="#8a8afa"><circle cx="221.35" cy="901.6" r="1.45"/><circle cx="219.85" cy="905.1" r="1.45"/><circle cx="222.65" cy="904.6" r="1.45"/><circle cx="221.35" cy="909.7" r="1.45"/><circle cx="221.35" cy="932.7" r="1.45"/><circle cx="221.35" cy="934.5" r="1.45"/><circle cx="221.35" cy="938.3" r="1.45"/></g>
<path d="M230.72 1000V929.62H240.38V1000" fill="#5f5f5f" stroke="#5f5f5f" stroke-width="0.85"/>
<path d="M235.55 926.4V929.7M232.95 926.4H238.15" stroke="#8a8afa" stroke-width="0.85" fill="none"/>
<g fill="#8a8afa"><circle cx="235.55" cy="917.6" r="1.45"/><circle cx="238.15" cy="922.6" r="1.45"/><circle cx="235.05" cy="923.9" r="1.45"/><circle cx="235.55" cy="927" r="1.45"/><circle cx="232.55" cy="937.4" r="1.45"/><circle cx="234.45" cy="937.4" r="1.45"/><circle cx="236.35" cy="937.4" r="1.45"/><circle cx="238.45" cy="937.4" r="1.45"/></g>
<path d="M173.35 858.25 V1000 H246.5" fill="none" stroke="#000" stroke-width="1.4"/>
<path d="M167.35 1000H173.35M169.95 979.87H173.35M167.35 959.74H173.35M169.95 939.61H173.35M167.35 919.49H173.35M169.95 899.36H173.35M167.35 879.23H173.35M169.95 859.1H173.35" stroke="#000" stroke-width="1.3" fill="none"/>
<text x="165.75" y="1003.7" class="tk" text-anchor="end">0</text>
<text x="165.75" y="963.44" class="tk" text-anchor="end">20</text>
<text x="165.75" y="923.19" class="tk" text-anchor="end">40</text>
<text x="165.75" y="882.93" class="tk" text-anchor="end">60</text>
<text x="191.6" y="1015.7" class="xl" text-anchor="middle">4h</text>
<text x="229.6" y="1015.7" class="xl" text-anchor="middle">4h</text>
<path d="M179.8 1022.2H204.9M217.6 1022.2H242.5" stroke="#000" stroke-width="1.6"/>
<text x="191.7" y="1036.5" class="grp" text-anchor="middle">C57</text>
<text x="230.1" y="1036.5" class="grp" text-anchor="middle" style="fill:#0c0cff">DBA</text>
</g>
<g transform="translate(0.9 0)">
<path d="M312.6 1000.8V929.75H321.6V1000.8" fill="#ffffff" stroke="#000000" stroke-width="1.1"/>
<path d="M316.9 927.4V929.7M314.3 927.4H319.5" stroke="#000000" stroke-width="0.85" fill="none"/>
<g fill="#808080"><circle cx="316.9" cy="920.2" r="1.5"/><circle cx="316.9" cy="922.6" r="1.5"/><circle cx="315.8" cy="926.6" r="1.5"/><circle cx="317.9" cy="926.6" r="1.5"/><circle cx="316.9" cy="928.2" r="1.5"/><circle cx="315.8" cy="932.7" r="1.5"/><circle cx="317.9" cy="933.5" r="1.5"/><circle cx="315.8" cy="934.6" r="1.5"/></g>
<path d="M326.77 1000.8V916.72H336.53V1000.8" fill="#d4d4d4" stroke="#505050" stroke-width="0.85"/>
<path d="M331.65 910.2V916.8M329.05 910.2H334.25" stroke="#4a4a4a" stroke-width="0.85" fill="none"/>
<g fill="#808080"><circle cx="331.65" cy="888.2" r="1.5"/><circle cx="331.65" cy="904.1" r="1.5"/><circle cx="331.65" cy="909.9" r="1.5"/><circle cx="331.65" cy="928.4" r="1.5"/><circle cx="331.65" cy="930.8" r="1.5"/><circle cx="331.65" cy="933.5" r="1.5"/></g>
<path d="M345.6 1000.8V931.35H355.6V1000.8" fill="#ffffff" stroke="#000000" stroke-width="1.1"/>
<path d="M350.4 924.2V931.3M347.8 924.2H353" stroke="#000000" stroke-width="0.85" fill="none"/>
<g fill="#808080"><circle cx="350.4" cy="907.5" r="1.5"/><circle cx="350.4" cy="915" r="1.5"/><circle cx="350.4" cy="923.1" r="1.5"/><circle cx="349.3" cy="932.2" r="1.5"/><circle cx="351.7" cy="932.2" r="1.5"/><circle cx="350.4" cy="947.6" r="1.5"/><circle cx="350.4" cy="953.9" r="1.5"/></g>
<path d="M360.62 1000.8V911.62H370.38V1000.8" fill="#d4d4d4" stroke="#505050" stroke-width="0.85"/>
<path d="M365.5 905.4V911.7M362.9 905.4H368.1" stroke="#4a4a4a" stroke-width="0.85" fill="none"/>
<g fill="#808080"><circle cx="365.5" cy="891.3" r="1.5"/><circle cx="365.5" cy="900.1" r="1.5"/><circle cx="364.2" cy="905.1" r="1.5"/><circle cx="366.6" cy="905.1" r="1.5"/><circle cx="365.5" cy="917" r="1.5"/><circle cx="366.6" cy="927.6" r="1.5"/><circle cx="364.2" cy="928.7" r="1.5"/></g>
<path d="M379.6 1000.8V935.65H388.6V1000.8" fill="#ffffff" stroke="#000000" stroke-width="1.1"/>
<path d="M384.1 930.3V935.6M381.5 930.3H386.7" stroke="#000000" stroke-width="0.85" fill="none"/>
<g fill="#808080"><circle cx="384.1" cy="919.5" r="1.5"/><circle cx="381.4" cy="927.9" r="1.5"/><circle cx="386.5" cy="927.9" r="1.5"/><circle cx="383.3" cy="929" r="1.5"/><circle cx="385.4" cy="929" r="1.5"/><circle cx="384.1" cy="938.8" r="1.5"/><circle cx="384.1" cy="943.9" r="1.5"/><circle cx="384.1" cy="956.3" r="1.5"/></g>
<path d="M393.92 1000.8V904.52H403.68V1000.8" fill="#d4d4d4" stroke="#505050" stroke-width="0.85"/>
<path d="M398.8 897V904.6M396.2 897H401.4" stroke="#4a4a4a" stroke-width="0.85" fill="none"/>
<g fill="#808080"><circle cx="398.8" cy="872.5" r="1.5"/><circle cx="398.8" cy="901" r="1.5"/><circle cx="398.8" cy="906.7" r="1.5"/><circle cx="398.8" cy="910.2" r="1.5"/><circle cx="398.8" cy="912.6" r="1.5"/><circle cx="398.8" cy="920.2" r="1.5"/></g>
<path d="M420.6 1000.8V908.65H429.6V1000.8" fill="#ffffff" stroke="#0c0cff" stroke-width="1.1"/>
<path d="M425.2 902.2V908.6M422.6 902.2H427.8" stroke="#0c0cff" stroke-width="0.85" fill="none"/>
<g fill="#8a8afa"><circle cx="425.2" cy="884.5" r="1.5"/><circle cx="425.2" cy="891" r="1.5"/><circle cx="425.2" cy="911" r="1.5"/><circle cx="425.2" cy="918.2" r="1.5"/><circle cx="426.3" cy="919.9" r="1.5"/><circle cx="423.9" cy="921.5" r="1.5"/></g>
<path d="M435.42 1000.8V893.42H445.18V1000.8" fill="#5f5f5f" stroke="#5f5f5f" stroke-width="0.85"/>
<path d="M440.3 890.5V893.5M437.7 890.5H442.9" stroke="#1a1a1a" stroke-width="0.85" fill="none"/>
<g fill="#8a8afa"><circle cx="440.3" cy="884" r="1.5"/><circle cx="440.3" cy="886.1" r="1.5"/><circle cx="438.4" cy="889.8" r="1.5"/><circle cx="441.6" cy="889.8" r="1.5"/><circle cx="440.3" cy="896.6" r="1.5"/><circle cx="441.6" cy="901.4" r="1.5"/><circle cx="438.7" cy="902.7" r="1.5"/></g>
<path d="M453.6 1000.8V910.25H463.6V1000.8" fill="#ffffff" stroke="#0c0cff" stroke-width="1.1"/>
<path d="M458.75 904.9V910.2M456.15 904.9H461.35" stroke="#0c0cff" stroke-width="0.85" fill="none"/>
<g fill="#8a8afa"><circle cx="458.75" cy="892.1" r="1.5"/><circle cx="455.55" cy="904.3" r="1.5"/><circle cx="458.45" cy="904.3" r="1.5"/><circle cx="461.35" cy="904.3" r="1.5"/><circle cx="458.75" cy="915.5" r="1.5"/><circle cx="458.75" cy="919.4" r="1.5"/><circle cx="458.75" cy="925.2" r="1.5"/></g>
<path d="M468.82 1000.8V903.72H478.58V1000.8" fill="#5f5f5f" stroke="#5f5f5f" stroke-width="0.85"/>
<path d="M473.7 897.4V903.8M471.1 897.4H476.3" stroke="#1a1a1a" stroke-width="0.85" fill="none"/>
<g fill="#8a8afa"><circle cx="473.7" cy="886.9" r="1.5"/><circle cx="473.7" cy="893.4" r="1.5"/><circle cx="473.7" cy="904.6" r="1.5"/><circle cx="473.7" cy="914.2" r="1.5"/><circle cx="473.7" cy="917.8" r="1.5"/></g>
<path d="M487.6 1000.8V893.55H497.6V1000.8" fill="#ffffff" stroke="#0c0cff" stroke-width="1.1"/>
<path d="M492.4 886.5V893.5M489.8 886.5H495" stroke="#0c0cff" stroke-width="0.85" fill="none"/>
<g fill="#8a8afa"><circle cx="492.4" cy="862" r="1.5"/><circle cx="492.4" cy="888.5" r="1.5"/><circle cx="492.4" cy="891.8" r="1.5"/><circle cx="492.4" cy="895" r="1.5"/><circle cx="492.4" cy="898.2" r="1.5"/><circle cx="492.4" cy="917.1" r="1.5"/></g>
<path d="M502.47 1000.8V906.32H512.23V1000.8" fill="#5f5f5f" stroke="#5f5f5f" stroke-width="0.85"/>
<path d="M507.35 899.8V906.4M504.75 899.8H509.95" stroke="#1a1a1a" stroke-width="0.85" fill="none"/>
<g fill="#8a8afa"><circle cx="507.35" cy="878.1" r="1.5"/><circle cx="507.35" cy="895" r="1.5"/><circle cx="507.35" cy="911.8" r="1.5"/><circle cx="505.75" cy="915.4" r="1.5"/><circle cx="508.95" cy="916.6" r="1.5"/><circle cx="507.35" cy="922.3" r="1.5"/></g>
<path d="M306.5 858.05 V1000.8 H519.6" fill="none" stroke="#000" stroke-width="1.4"/>
<path d="M300.5 1000.8H306.5M303.1 980.53H306.5M300.5 960.26H306.5M303.1 939.99H306.5M300.5 919.72H306.5M303.1 899.44H306.5M300.5 879.17H306.5M303.1 858.9H306.5" stroke="#000" stroke-width="1.3" fill="none"/>
<text x="298.9" y="1004.5" class="tk" text-anchor="end">0</text>
<text x="298.9" y="963.96" class="tk" text-anchor="end">20</text>
<text x="298.9" y="923.42" class="tk" text-anchor="end">40</text>
<text x="298.9" y="882.87" class="tk" text-anchor="end">60</text>
<text x="323.3" y="1014.1" class="xl" text-anchor="middle">4h</text>
<text x="355.7" y="1014.1" class="xl" text-anchor="middle">24h</text>
<text x="390.7" y="1014.1" class="xl" text-anchor="middle">48h</text>
<text x="431.9" y="1014.1" class="xl" text-anchor="middle">4h</text>
<text x="464.3" y="1014.1" class="xl" text-anchor="middle">24h</text>
<text x="498.1" y="1014.1" class="xl" text-anchor="middle">48h</text>
<path d="M310.4 1020.7H403.9M422.1 1020.7H515.4" stroke="#000" stroke-width="1.6"/>
<text x="357.6" y="1034.9" class="grp" style="font-size:11.3px" text-anchor="middle">C57</text>
<text x="466.2" y="1034.9" class="grp" text-anchor="middle" style="font-size:11.3px;fill:#0c0cff">DBA</text>
</g>
<text x="322" y="807.6" class="sb">treatment: p=2.9x10<tspan dy="-4.6" class="sup">-4</tspan><tspan dy="4.6">&#8203;</tspan>; strain: p=4.9x10<tspan dy="-4.6" class="sup">-8</tspan><tspan dy="4.6">&#8203;</tspan></text>
<text x="322" y="819.7" class="sb">treatment x strain: p=0.004</text>
<path d="M317.6 826.5H517.6" stroke="#1c1cd0" stroke-width="1"/>
<text x="315.4" y="845.5" class="st">treatment: p=3.6x10<tspan dy="-4.6" class="sup">-5</tspan><tspan dy="4.6">&#8203;</tspan></text>
<path d="M317 850.5H405" stroke="#333" stroke-width="1"/>
</svg>
</body></html>
